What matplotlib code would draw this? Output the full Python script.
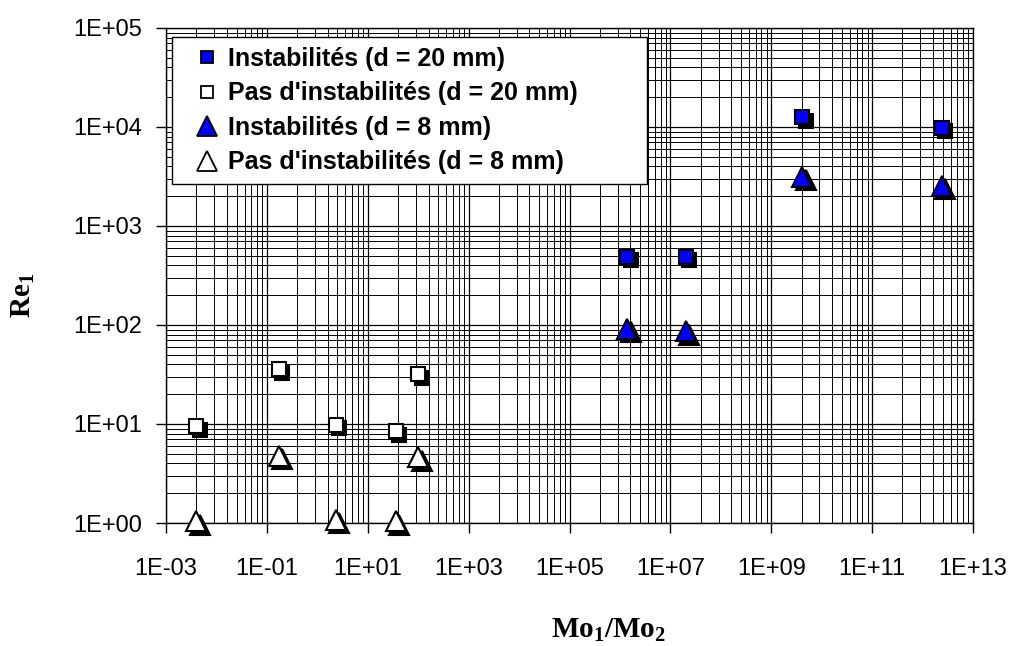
import matplotlib.pyplot as plt
import matplotlib.transforms as mtransforms
from matplotlib.lines import Line2D
from matplotlib.legend_handler import HandlerLine2D
from matplotlib.ticker import FixedLocator, LogLocator, NullFormatter
import numpy as np

plt.rcParams['font.family'] = ['Liberation Sans', 'DejaVu Sans']
plt.rcParams['mathtext.fontset'] = 'custom'
plt.rcParams['mathtext.rm'] = 'Liberation Serif:bold'
plt.rcParams['mathtext.bf'] = 'Liberation Serif:bold'
plt.rcParams['mathtext.default'] = 'rm'

# Mo1/Mo2 and Re1 values
x_inst20 = [1.4e6, 2.0e7, 4.1e9, 2.4e12]
y_inst20 = [490, 490, 12500, 9800]
x_stab20 = [0.004, 0.17, 2.3, 36, 100]
y_stab20 = [9.5, 36, 9.8, 8.4, 32]
x_inst8 = [1.4e6, 2.0e7, 4.1e9, 2.4e12]
y_inst8 = [92, 87, 3150, 2550]
x_stab8 = [0.004, 0.17, 2.3, 36, 100]
y_stab8 = [1.05, 4.8, 1.08, 1.05, 4.6]

labels = ["Instabilités (d = 20 mm)", "Pas d'instabilités (d = 20 mm)",
          "Instabilités (d = 8 mm)", "Pas d'instabilités (d = 8 mm)"]

x_ticks = [1e-3, 1e-1, 1e1, 1e3, 1e5, 1e7, 1e9, 1e11, 1e13]
x_ticklabels = ['1E-03', '1E-01', '1E+01', '1E+03', '1E+05', '1E+07', '1E+09', '1E+11', '1E+13']
y_ticks = [1, 1e1, 1e2, 1e3, 1e4, 1e5]
y_ticklabels = ['1E+00', '1E+01', '1E+02', '1E+03', '1E+04', '1E+05']

fig = plt.figure(figsize=(10.18, 6.46), dpi=100)
ax = fig.add_axes([0.1631, 0.1904, 0.7927, 0.7663])
ax.set_xscale('log')
ax.set_yscale('log')
ax.set_xlim(1e-3, 1e13)
ax.set_ylim(1, 1e5)

# Excel-like drop shadow under each marker
shadow = mtransforms.offset_copy(ax.transData, fig=fig, x=2.6, y=-2.6, units='points')

series = [
    (x_inst20, y_inst20, 's', 'blue', 10.5, 8.5),
    (x_stab20, y_stab20, 's', 'white', 10.5, 8.5),
    (x_inst8, y_inst8, '^', 'blue', 14, 14),
    (x_stab8, y_stab8, '^', 'white', 14, 14),
]
handles = []
for (x, y, m, fc, ms, lms), lab in zip(series, labels):
    ax.plot(x, y, m, ls='none', color='black', ms=ms, mew=1.5,
            transform=shadow, clip_on=False, zorder=3)
    ax.plot(x, y, m, ls='none', mfc=fc, mec='black', ms=ms, mew=1.5,
            clip_on=False, zorder=4)
    h, = ax.plot([], [], m, ls='none', mfc=fc, mec='black', ms=lms, mew=1.3, label=lab)
    handles.append(h)

# Excel puts the minor lines of a 2-decade major unit at k^2 times the major value
minor_x = [t * k ** 2 for t in x_ticks[:-1] for k in range(2, 10)]
ax.xaxis.set_major_locator(FixedLocator(x_ticks))
ax.set_xticklabels(x_ticklabels)
ax.xaxis.set_minor_locator(FixedLocator(minor_x))
ax.xaxis.set_minor_formatter(NullFormatter())
ax.yaxis.set_major_locator(FixedLocator(y_ticks))
ax.set_yticklabels(y_ticklabels)
ax.yaxis.set_minor_locator(LogLocator(base=10, subs=np.arange(2, 10), numticks=200))
ax.yaxis.set_minor_formatter(NullFormatter())

ax.grid(which='major', color='black', lw=0.9)
ax.grid(which='minor', color='black', lw=0.7)
ax.set_axisbelow(True)
ax.tick_params(which='minor', length=0)
ax.tick_params(axis='x', which='major', length=7, width=1, labelsize=17, pad=18)
ax.tick_params(axis='y', which='major', length=7, width=1, labelsize=17, pad=10)
for s in ax.spines.values():
    s.set_color('black')
    s.set_linewidth(1)

ax.set_xlabel('Mo$_1$/Mo$_2$', fontfamily='Liberation Serif', fontweight='bold', fontsize=21)
ax.xaxis.set_label_coords(0.548, -0.19)
ax.set_ylabel('Re$_1$', fontfamily='Liberation Serif', fontweight='bold', fontsize=21)
ax.yaxis.set_label_coords(-0.16, 0.46)

leg = ax.legend(handles=handles, loc='upper left',
                bbox_to_anchor=(0.0074, 0.682, 0.5886, 0.3), mode='expand',
                borderaxespad=0, frameon=True, fancybox=False, framealpha=1,
                edgecolor='black', handlelength=1.4, handletextpad=0.44,
                labelspacing=0.42, borderpad=0.4,
                handler_map={Line2D: HandlerLine2D(xpad=0.6)},
                prop={'family': 'Liberation Sans', 'weight': 'bold', 'size': 18})
leg.get_frame().set_linewidth(1.0)
leg.set_zorder(5)

fig.savefig('out.png', dpi=100)
